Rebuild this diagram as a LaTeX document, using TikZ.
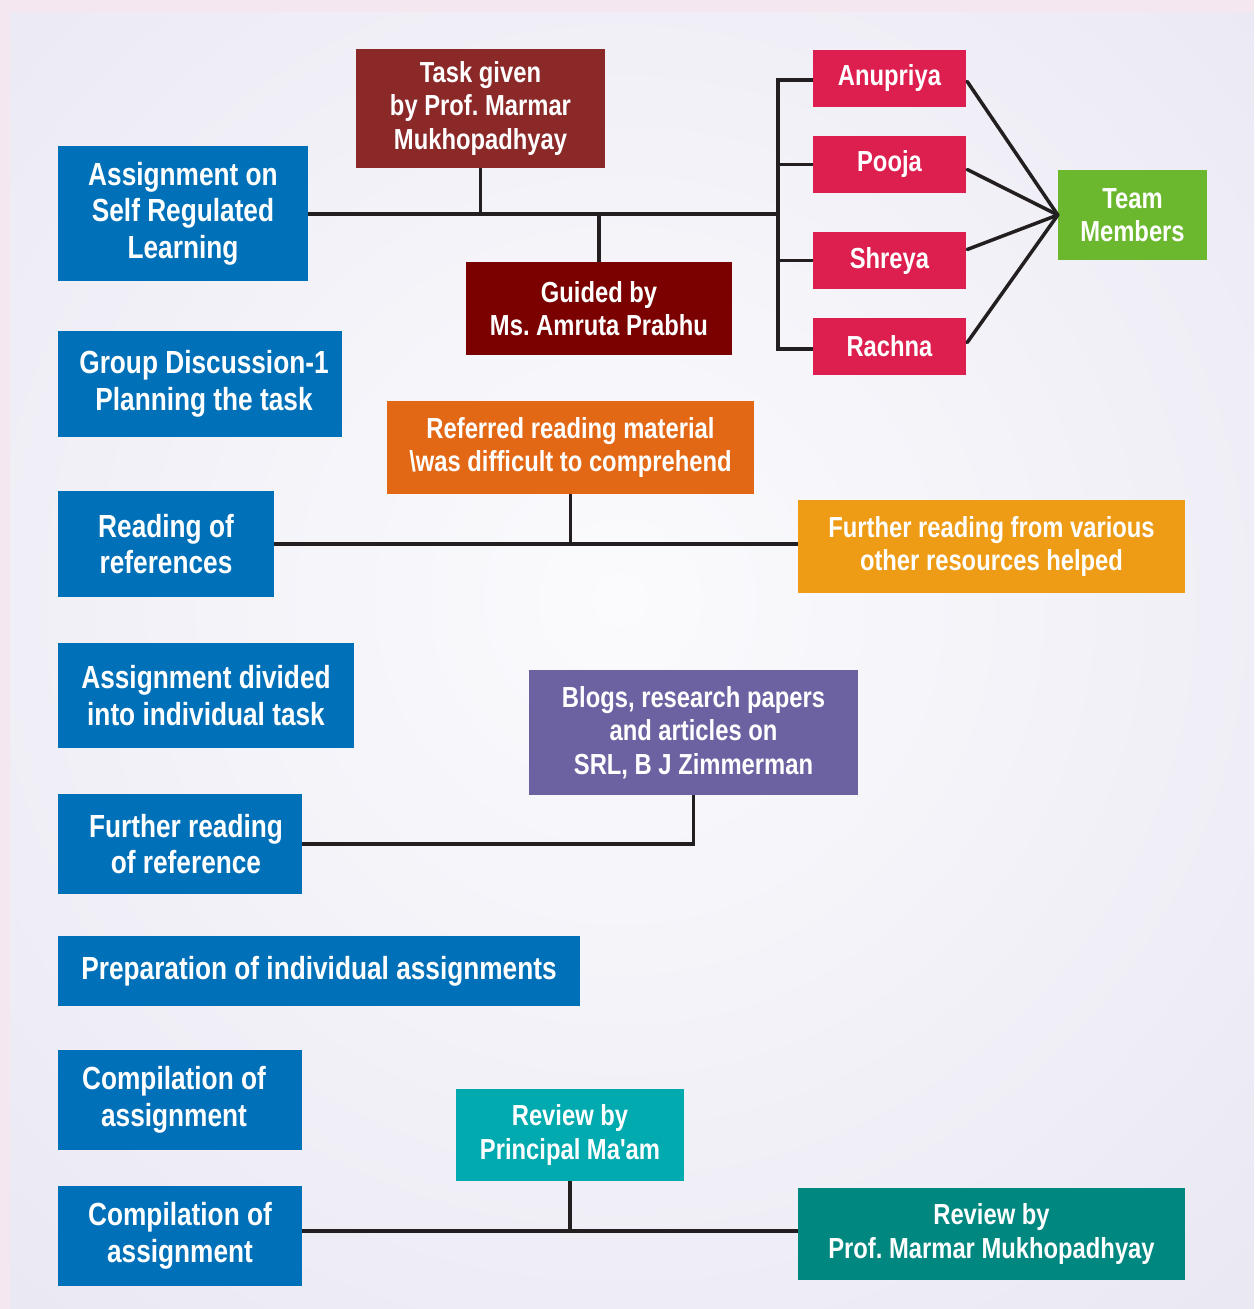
\documentclass[tikz,border=0pt]{standalone}
\usepackage{fontspec}
\newfontfamily\nf[FakeStretch=0.82]{Liberation Sans}
\usetikzlibrary{calc}
\definecolor{bgpink}{HTML}{F5E7F0}
\definecolor{lavout}{HTML}{DAD7EA}
\definecolor{lavin}{HTML}{FBFBFD}
\definecolor{cblue}{HTML}{0070B8}
\definecolor{ctask}{HTML}{8B2828}
\definecolor{cguide}{HTML}{7B0000}
\definecolor{ccrim}{HTML}{DC1F4E}
\definecolor{cgreen}{HTML}{6BB82F}
\definecolor{corange}{HTML}{E36816}
\definecolor{cyell}{HTML}{EE9B16}
\definecolor{cpurp}{HTML}{6C62A2}
\definecolor{cteal}{HTML}{00AAAE}
\definecolor{cdteal}{HTML}{008780}
\definecolor{cline}{HTML}{231F20}
\tikzset{
  box/.style={fill=#1, text=white, align=center, inner sep=0pt,
    font=\nf\bfseries\frenchspacing\fontsize{29}{33.5}\selectfont},
  bbox/.style={box=cblue, font=\nf\bfseries\frenchspacing\fontsize{32}{36.5}\selectfont},
  conn/.style={draw=cline, line width=3.5pt},
}
\begin{document}
\begin{tikzpicture}[x=1pt,y=-1pt]
\useasboundingbox (0,0) rectangle (1254,1309);
\fill[bgpink] (0,0) rectangle (1254,1309);
\begin{scope}
  \clip (10,12) rectangle (1254,1309);
  \fill[lavout] (10,12) rectangle (1254,1309);
  \shade[inner color=lavin, outer color=lavout] (620,600) circle (1800pt);
\end{scope}

% nodes
\node[bbox, minimum width=250pt, minimum height=135pt] (assign) at (183,213.5) {Assignment on\\Self Regulated\\Learning};
\node[box=ctask, minimum width=249pt, minimum height=119pt] (task) at (480.5,108.5) {Task given\\by Prof. Marmar\\Mukhopadhyay};
\node[box=cguide, minimum width=266pt, minimum height=93pt] (guided) at (599,308.5) {Guided by\\Ms. Amruta Prabhu};
\node[box=ccrim, minimum width=153pt, minimum height=57pt] (anu) at (889.5,78.5) {Anupriya};
\node[box=ccrim, minimum width=153pt, minimum height=57pt] (pooja) at (889.5,164.5) {Pooja};
\node[box=ccrim, minimum width=153pt, minimum height=57pt] (shreya) at (889.5,260.5) {Shreya};
\node[box=ccrim, minimum width=153pt, minimum height=57pt] (rachna) at (889.5,346.5) {Rachna};
\node[box=cgreen, minimum width=149pt, minimum height=90pt] (team) at (1132.5,215) {Team\\Members};
\node[bbox, minimum width=284pt, minimum height=106pt] (gd) at (200,384) {\hspace*{8pt}Group Discussion-1\\\hspace*{8pt}Planning the task};
\node[box=corange, minimum width=367pt, minimum height=93pt] (referred) at (570.5,447.5) {Referred reading material\\\textbackslash was difficult to comprehend};
\node[bbox, minimum width=216pt, minimum height=106pt] (reading) at (166,544) {Reading of\\references};
\node[box=cyell, minimum width=387pt, minimum height=93pt] (further) at (991.5,546.5) {Further reading from various\\other resources helped};
\node[bbox, minimum width=296pt, minimum height=105pt] (divided) at (206,695.5) {Assignment divided\\into individual task};
\node[box=cpurp, minimum width=329pt, minimum height=125pt] (blogs) at (693.5,732.5) {Blogs, research papers\\and articles on\\SRL, B J Zimmerman};
\node[bbox, minimum width=244pt, minimum height=100pt] (furref) at (180,844) {\hspace*{12pt}Further reading\\\hspace*{12pt}of reference};
\node[bbox, minimum width=522pt, minimum height=70pt] (prep) at (319,971) {Preparation of individual assignments};
\node[bbox, minimum width=244pt, minimum height=100pt] (comp1) at (180,1100) {Compilation of\hspace*{12pt}\\assignment\hspace*{12pt}};
\node[box=cteal, minimum width=228pt, minimum height=92pt] (revprin) at (570,1135) {Review by\\Principal Ma'am};
\node[bbox, minimum width=244pt, minimum height=100pt] (comp2) at (180,1236) {Compilation of\\assignment};
\node[box=cdteal, minimum width=387pt, minimum height=92pt] (revprof) at (991.5,1234) {Review by\\Prof. Marmar Mukhopadhyay};

% connectors
\coordinate (j1) at (778,214);
\draw[conn] (assign.east |- j1) -- (j1);
\draw[conn] (task.south) -- (task.south |- j1);
\draw[conn] (guided.north) -- (guided.north |- j1);
\coordinate (bt) at (778,80);
\coordinate (bb) at (778,349);
\draw[conn] (anu.west |- bt) -- (bt) -- (bb) -- (rachna.west |- bb);
\draw[conn] (pooja.west) -- (pooja.west -| bt);
\draw[conn] (shreya.west) -- (shreya.west -| bt);
\draw[conn, line cap=round] ($(anu.east)+(1,3)$) -- (team.west);
\draw[conn, line cap=round] ($(pooja.east)+(1,5)$) -- (team.west);
\draw[conn, line cap=round] ($(shreya.east)+(1,-11)$) -- (team.west);
\draw[conn, line cap=round] ($(rachna.east)+(1,-4)$) -- (team.west);
\draw[conn] (reading.east) -- (reading.east -| further.west);
\draw[conn] (referred.south) -- (referred.south |- reading.east);
\draw[conn] (furref.east) -| (blogs.south);
\coordinate (j4) at (570,1231);
\draw[conn] (comp2.east |- j4) -- (revprof.west |- j4);
\draw[conn] (revprin.south) -- (j4);
\end{tikzpicture}
\end{document}
